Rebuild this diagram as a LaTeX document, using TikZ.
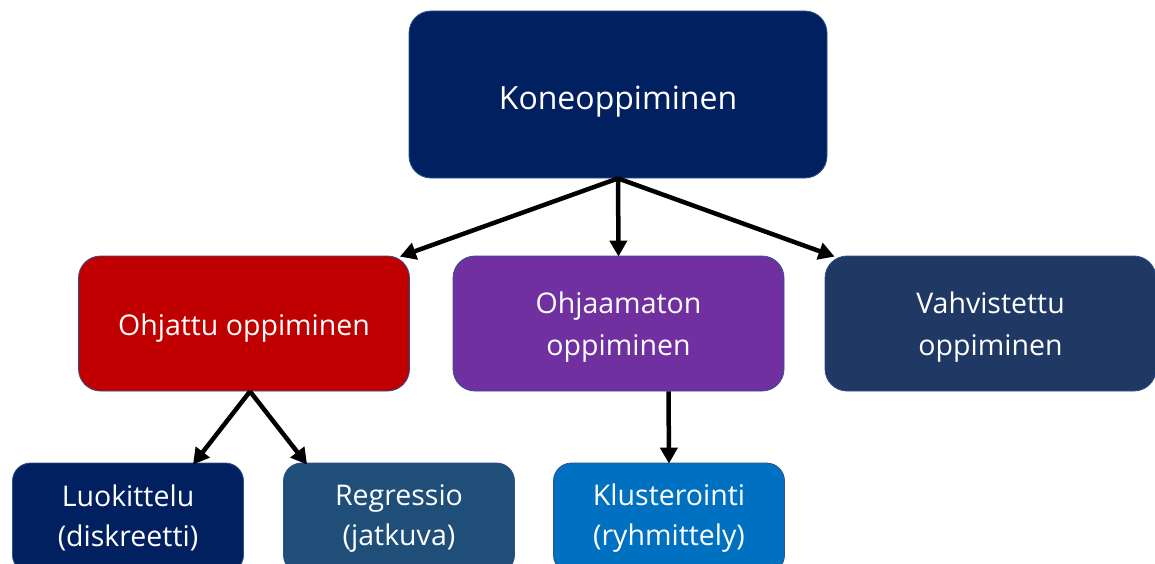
\documentclass[tikz,border=0pt]{standalone}
\usepackage{fontspec}
\setmainfont{Open Sans}
\usetikzlibrary{arrows.meta,positioning}
\definecolor{navy}{HTML}{002060}
\definecolor{darkred}{HTML}{C00000}
\definecolor{violet}{HTML}{7030A0}
\definecolor{slate}{HTML}{203864}
\definecolor{steel}{HTML}{1F4E79}
\definecolor{azure}{HTML}{0070C0}
\definecolor{edge}{HTML}{2F528F}
% invisible strut: taller first line pushes the text block down by half the extra height
\newcommand\topstrut[1]{\rule{0pt}{#1}}
\tikzset{
  box/.style={rounded corners=22pt, draw=edge, line width=0.8pt, text=white,
    inner sep=0pt, align=center},
  rootbox/.style={box, minimum width=418pt, minimum height=167pt,
    font=\fontsize{32}{38}\selectfont},
  midbox/.style={box, minimum width=331pt, minimum height=135pt,
    font=\fontsize{28.5}{42}\selectfont},
  leafbox/.style={box, rounded corners=18pt, minimum width=231pt, minimum height=110pt,
    font=\fontsize{28.5}{40}\selectfont},
  link/.style={line width=4.5pt, -{Triangle[length=16pt,width=17pt]}}
}
\begin{document}
\begin{tikzpicture}[x=1pt,y=-1pt]
\useasboundingbox (0,0) rectangle (1155,564);
% top level
\node[rootbox, fill=navy] (root) at (618,94.5) {\topstrut{37pt}Koneoppiminen};
% learning paradigms
\node[midbox, fill=darkred] (sup) at (244,323.5) {\topstrut{30pt}Ohjattu oppiminen};
\node[midbox, fill=violet] (unsup) at (618.5,323.5) {\topstrut{28pt}Ohjaamaton\\oppiminen};
\node[midbox, fill=slate] (rl) at (990.5,323.5) {\topstrut{28pt}Vahvistettu\\oppiminen};
% tasks
\node[leafbox, fill=navy] (cls) at (128,518) {Luokittelu\\(diskreetti)};
\node[leafbox, fill=steel] (reg) at (399,518) {Regressio\\(jatkuva)};
\node[leafbox, fill=azure] (clu) at (669,518) {Klusterointi\\(ryhmittely)};
% connectors
\draw[link] (root.south) -- ([xshift=-10pt,yshift=-1pt]sup.north east);
\draw[link] (root.south) -- ([yshift=-1pt]unsup.north);
\draw[link] (root.south) -- ([xshift=10pt,yshift=-1pt]rl.north west);
\draw[link] ([xshift=6pt]sup.south) -- ([xshift=65pt,yshift=-2pt]cls.north);
\draw[link] ([xshift=6pt]sup.south) -- ([xshift=24pt,yshift=-2pt]reg.north west);
\draw[link] ([xshift=50pt]unsup.south) -- ([yshift=-1pt]clu.north);
\end{tikzpicture}
\end{document}
